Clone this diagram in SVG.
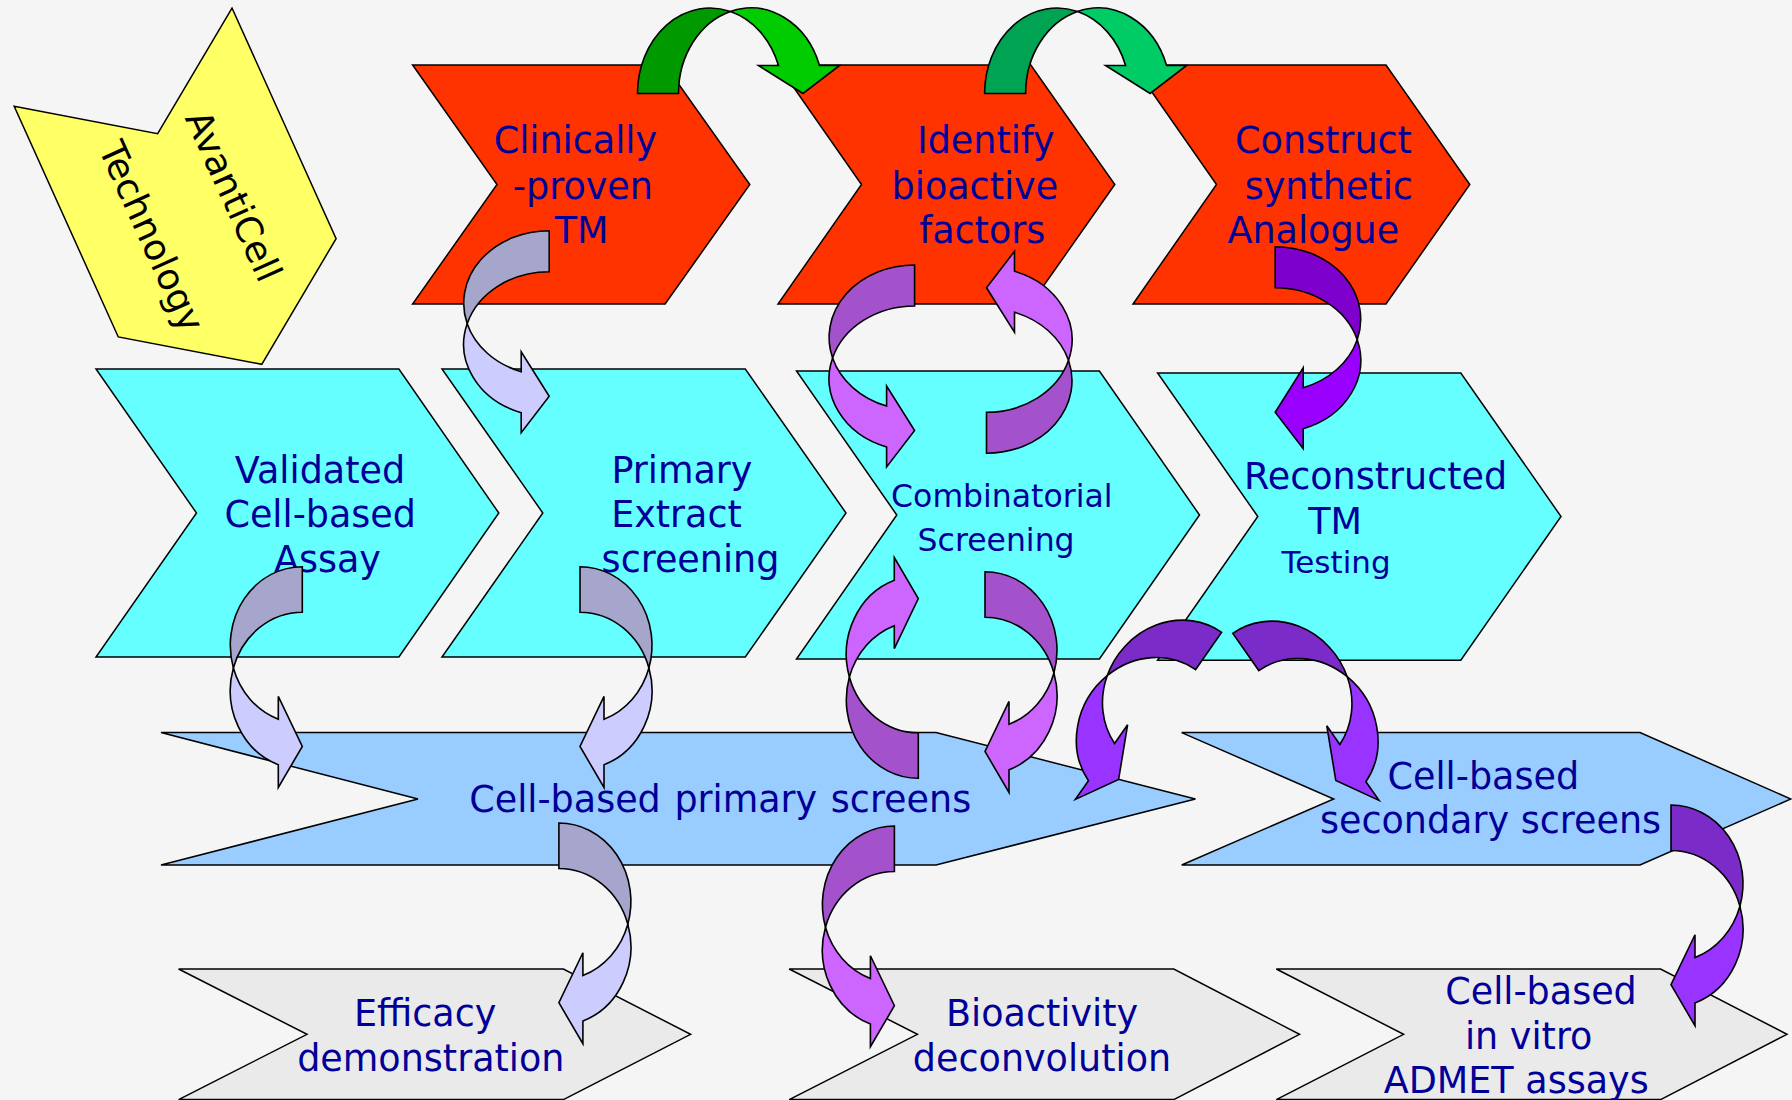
<svg xmlns="http://www.w3.org/2000/svg" xmlns:xlink="http://www.w3.org/1999/xlink" width="1792" height="1100" viewBox="0 0 1792 1100">
<style>
.shape{stroke:#000;stroke-width:1.5;stroke-linejoin:miter}
.red{fill:#ff3300}.cyan{fill:#66ffff}.blue{fill:#99ccff}.gray{fill:#eaeaea}.yellow{fill:#ffff66}
.lbl{font-family:"DejaVu Sans",Verdana,sans-serif;font-size:36.5px;fill:#000099;text-anchor:middle}
.sm{font-size:31.5px}
.blk{fill:#000}
.arr{stroke:#000;stroke-width:1.6;stroke-linejoin:miter}
</style>
<defs>
<g id="a1">
<path fill="currentColor" d="M85.5,0 A85.5,72.5 0 0 0 3.49,93 A85.5,72.5 0 0 1 85.5,41 Z"/>
<path d="M3.49,93 A85.5,72.5 0 0 0 57.5,141 L57.5,121 L85.5,165.5 L57.5,202 L57.5,182 A85.5,72.5 0 0 1 3.49,93 Z"/>
</g>
<g id="a2">
<path fill="currentColor" d="M72,0 A72,78.5 0 0 0 3.09,101.25 A72,78.5 0 0 1 72,45.5 Z"/>
<path d="M3.09,101.25 A72,78.5 0 0 0 48,152.51 L48,129.76 L72,179.75 L48,220.76 L48,198.01 A72,78.5 0 0 1 3.09,101.25 Z"/>
</g>
</defs>
<rect x="0" y="0" width="1792" height="1100" fill="#f5f5f5"/>

<g id="avanticell">
<g transform="translate(232,8) rotate(65.7)">
<polygon class="shape yellow" points="0,0 253,0 337,119.5 253,239 0,239 84,119.5"/>
<text class="lbl blk" x="172" y="88.5">AvantiCell</text>
<text class="lbl blk" x="175" y="180">Technology</text>
</g>
</g>

<g id="clinically-proven">
<polygon class="shape red" points="412.6,65 665.1,65 749.8,184.5 665.1,304 412.6,304 497,184.5"/>
<text class="lbl" x="575.4" y="153.3">Clinically</text>
<text class="lbl" x="582.9" y="199">-proven</text>
<text class="lbl" x="581.7" y="243.3">TM</text>
</g>
<g id="identify-bioactive">
<polygon class="shape red" points="778,65 1030.8,65 1114.8,184.5 1030.8,304 778,304 861.5,184.5"/>
<text class="lbl" x="985.8" y="153.3">Identify</text>
<text class="lbl" x="974.9" y="199">bioactive</text>
<text class="lbl" x="982.3" y="243.3">factors</text>
</g>
<g id="construct-analogue">
<polygon class="shape red" points="1133,65 1386,65 1469.8,184.5 1386,304 1133,304 1216.5,184.5"/>
<text class="lbl" x="1323.5" y="153.3">Construct</text>
<text class="lbl" x="1328.8" y="199">synthetic</text>
<text class="lbl" x="1313.3" y="243.3">Analogue</text>
</g>

<g id="validated-assay">
<polygon class="shape cyan" points="96,369 398.9,369 498.8,513 398.9,657 96,657 196.5,513"/>
<text class="lbl" x="320" y="482.7">Validated</text>
<text class="lbl" x="320.2" y="527.3">Cell-based</text>
<text class="lbl" x="327.4" y="571.7">Assay</text>
</g>
<g id="primary-extract">
<polygon class="shape cyan" points="442,369 745.3,369 846,513 745.3,657 442,657 542.8,513"/>
<text class="lbl" x="681.9" y="482.7">Primary</text>
<text class="lbl" x="676.5" y="527.3">Extract</text>
<text class="lbl" x="690.5" y="571.7">screening</text>
</g>
<g id="combinatorial">
<polygon class="shape cyan" points="796.5,371 1099.4,371 1199.5,515 1099.4,659 796.5,659 896.8,515"/>
<text class="lbl sm" x="1001.8" y="506.7">Combinatorial</text>
<text class="lbl sm" x="996.1" y="551">Screening</text>
</g>
<g id="reconstructed">
<polygon class="shape cyan" points="1157.6,373 1460.8,373 1561,516.5 1460.8,660.3 1157.6,660.3 1257.8,516.5"/>
<text class="lbl" x="1375.6" y="489.3">Reconstructed</text>
<text class="lbl" x="1335.2" y="534.3">TM</text>
<text class="lbl" x="1336.1" y="573.3" style="font-size:31px">Testing</text>
</g>

<g id="primary-screens">
<polygon class="shape blue" points="161,732.6 936,732.6 1195.4,799 936,865 161,865 418,799"/>
<text class="lbl" x="720.2" y="811.7" style="word-spacing:2px">Cell-based primary screens</text>
</g>
<g id="secondary-screens">
<polygon class="shape blue" points="1181.7,732.6 1640,732.6 1790.9,799 1640,865 1181.7,865 1333.7,799"/>
<text class="lbl" x="1483.3" y="789.3">Cell-based</text>
<text class="lbl" x="1490.5" y="833.3">secondary screens</text>
</g>

<g id="efficacy">
<polygon class="shape gray" points="178.6,969 563.4,969 690.6,1034.3 563.4,1099.6 178.6,1099.6 307,1034.3"/>
<text class="lbl" x="425.2" y="1026">Efficacy</text>
<text class="lbl" x="430.8" y="1070.7">demonstration</text>
</g>
<g id="bioactivity">
<polygon class="shape gray" points="789.2,969 1173.8,969 1299.5,1034.3 1173.8,1099.6 789.2,1099.6 917.4,1034.3"/>
<text class="lbl" x="1042.1" y="1026">Bioactivity</text>
<text class="lbl" x="1042" y="1070.7">deconvolution</text>
</g>
<g id="admet">
<polygon class="shape gray" points="1276.3,969 1660.6,969 1787,1034.3 1660.6,1099.6 1276.3,1099.6 1403.6,1034.3"/>
<text class="lbl" x="1541" y="1004">Cell-based</text>
<text class="lbl" x="1528.7" y="1049">in vitro</text>
<text class="lbl" x="1516.2" y="1092.7">ADMET assays</text>
</g>

<g id="connectors">
<use xlink:href="#a1" href="#a1" class="arr" fill="#00cc00" color="#009900" transform="matrix(0,1,1,0,637.5,8)"/>
<use xlink:href="#a1" href="#a1" class="arr" fill="#00cc66" color="#00a352" transform="matrix(0,1,1,0,984.6,8)"/>
<use xlink:href="#a1" href="#a1" class="arr" fill="#ccccff" color="#a6a6cc" transform="translate(463.7,230.7)"/>
<use xlink:href="#a1" href="#a1" class="arr" fill="#cc66ff" color="#a352cc" transform="translate(829.1,265)"/>
<use xlink:href="#a1" href="#a1" class="arr" fill="#cc66ff" color="#a352cc" transform="translate(1072,453.3) scale(-1,-1)"/>
<use xlink:href="#a1" href="#a1" class="arr" fill="#9900ff" color="#7d00cc" transform="translate(1360.7,246.7) scale(-1,1)"/>
<use xlink:href="#a2" href="#a2" class="arr" fill="#ccccff" color="#a6a6cc" transform="translate(230.3,566.7)"/>
<use xlink:href="#a2" href="#a2" class="arr" fill="#ccccff" color="#a6a6cc" transform="translate(652,566.7) scale(-1,1)"/>
<use xlink:href="#a2" href="#a2" class="arr" fill="#cc66ff" color="#a352cc" transform="translate(846.3,778.3) scale(1,-1)"/>
<use xlink:href="#a2" href="#a2" class="arr" fill="#cc66ff" color="#a352cc" transform="translate(1057,571.7) scale(-1,1)"/>
<use xlink:href="#a2" href="#a2" class="arr" fill="#ccccff" color="#a6a6cc" transform="translate(630.9,823) scale(-1,1)"/>
<use xlink:href="#a2" href="#a2" class="arr" fill="#cc66ff" color="#a352cc" transform="translate(822.4,826)"/>
<use xlink:href="#a2" href="#a2" class="arr" fill="#9933ff" color="#7b2bc8" transform="translate(1221.7,632.3) rotate(35) translate(-72,0)"/>
<use xlink:href="#a2" href="#a2" class="arr" fill="#9933ff" color="#7b2bc8" transform="translate(1232.7,633.3) rotate(-35) scale(-1,1) translate(-72,0)"/>
<use xlink:href="#a2" href="#a2" class="arr" fill="#9933ff" color="#7b2bc8" transform="translate(1743,805) scale(-1,1)"/>
</g>
</svg>
